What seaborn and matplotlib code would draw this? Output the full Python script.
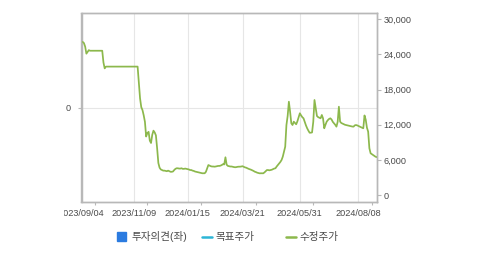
import numpy as np
import pandas as pd
import matplotlib
matplotlib.use("Agg")
import matplotlib.pyplot as plt
import matplotlib.ticker as mticker
from matplotlib.lines import Line2D
from matplotlib.patches import Rectangle
from matplotlib.transforms import Bbox, TransformedBbox
import seaborn as sns

# ---------------- data ----------------
holidays = ["2023-09-28", "2023-09-29", "2023-10-02", "2023-10-03", "2023-10-09",
            "2023-12-25", "2023-12-29", "2024-01-01", "2024-02-09", "2024-02-12",
            "2024-03-01", "2024-04-10", "2024-05-01", "2024-05-06", "2024-05-15",
            "2024-06-06", "2024-08-15"]
start_date = "2023-09-04"
end_date = "2024-08-30"

tick_dates = ["2023/09/04", "2023/11/09", "2024/01/15", "2024/03/21", "2024/05/31", "2024/08/08"]

price_a = [26100, 26100, 25900, 25300, 24100, 24400, 24700, 24600, 24600, 24600,
           24600, 24600, 24600, 24600, 24600, 24600, 24600, 24600]
price_b = [22600, 21600, 21900, 21900, 21900, 21900, 21900, 21900, 21900, 21900,
           21900, 21900, 21900, 21900, 21900, 21900, 21900, 21900, 21900, 21900,
           21900, 21900, 21900, 21900, 21900, 21900, 21900, 21900, 21900]
price_c = [19100, 16500, 15000, 14500, 13600, 12500, 10000, 10600, 10800, 9300,
           8900, 10300, 11000, 10700, 10200, 8000, 5500, 4700, 4400]
price_d = [4300, 4200, 4200, 4150, 4100, 4200, 4100, 4000, 4000, 4050,
           4300, 4500, 4600, 4600, 4550, 4550, 4600, 4500, 4500, 4550,
           4500, 4450, 4400]
price_e = [4300, 4300, 4200, 4150, 4050, 4000, 3950, 3900, 3850, 3800,
           3750, 3750, 3750, 4000, 4600]
price_f = [5150, 5050, 4950, 4900, 4900, 4870, 4900, 4950, 5000, 5000,
           5050, 5150, 5300, 5250]
price_g = [6470, 5200, 5000, 4950]
price_h = [4900, 4900, 4850, 4800, 4770, 4800, 4850, 4870, 4870, 4900,
           4950, 4850, 4750, 4700, 4600, 4500]
price_i = [4430, 4350, 4250, 4150, 4020, 3950, 3850, 3800, 3740, 3750,
           3750, 3740, 3900, 4100]
price_j = [4300, 4300, 4250, 4300, 4350, 4450, 4550, 4600, 4900, 5160,
           5400, 5670, 6000, 6570, 7400]
price_k = [8270, 11960, 13500, 15930, 14230, 12250, 11960, 12530, 12300, 12080,
           12600, 13300, 13960, 13600, 13300, 13100, 12500, 11900, 11400, 11000,
           10650, 10650, 10700, 12500, 16220, 14800, 13500, 13300, 13200, 13100,
           13670, 13100, 11400, 12000, 12530, 12800, 13000, 13100, 12900, 12500,
           12250, 12000, 11680, 12500, 15080, 12530, 12300, 12200, 12080, 12000,
           11950, 11900, 11850, 11800, 11750, 11700, 11680, 11900, 11960, 11900,
           11800, 11700, 11600, 11500, 11400, 13590, 12870, 11500, 10830, 8000,
           7150, 7000, 6860, 6700, 6570, 6500]

right_ticks = [0, 6000, 12000, 18000, 24000, 30000]

legend_labels = ["투자의견(좌)", "목표주가", "수정주가"]
legend_colors = ["#2b7be0", "#2cb5d6", "#8cb84c"]

# ---------------- build ----------------
prices = (price_a + price_b + price_c + price_d + price_e + price_f + price_g
          + price_h + price_i + price_j + price_k)
hol = set(pd.to_datetime(holidays))
dates = [d for d in pd.bdate_range(start_date, end_date) if d not in hol]
if len(dates) != len(prices):
    raise SystemExit(f"len mismatch {len(dates)} {len(prices)}")
pos = np.arange(len(dates))
date_index = {d.strftime("%Y/%m/%d"): i for i, d in enumerate(dates)}
major_pos = [date_index[t] for t in tick_dates]
minor_pos = [p + 11 for p in major_pos]

sns.set_theme(style="white")
plt.rcParams['font.family'] = ['Liberation Sans', 'Noto Sans CJK KR', 'DejaVu Sans']

W, H = 479, 254
fig = plt.figure(figsize=(W / 100, H / 100), dpi=100)
L, R, T, B = 81.5, 376.7, 13.3, 202.0
ax = fig.add_axes([L / W, 1 - B / H, (R - L) / W, (B - T) / H])
ax2 = ax.twinx()

spine_c = "#b8b8b8"
grid_c = "#e6e6e6"
txt_c = "#4a4a4a"

sns.lineplot(x=pos, y=prices, ax=ax2, color="#8cb84c", linewidth=1.25)

ax.set_xlim(0, len(dates) - 1)
ax.set_ylim(-1, 1)
ax.set_yticks([0])
ax.set_yticklabels(["0"])
ax.set_xticks(major_pos)
ax.set_xticklabels(tick_dates)
ax.set_xticks(minor_pos, minor=True)
ax.grid(True, which="major", color=grid_c, linewidth=0.8)
ax.set_axisbelow(True)

ax2.set_ylim(-1140, 30970)
ax2.set_yticks(right_ticks)
ax2.yaxis.set_major_formatter(mticker.FuncFormatter(lambda v, p: f"{int(v):,}"))
ax2.grid(False)
ax2.set_xlabel("")
ax2.set_ylabel("")

for a in (ax, ax2):
    for s in a.spines.values():
        s.set_color(spine_c)
        s.set_linewidth(1.0)

ax.tick_params(axis="x", which="major", direction="out", length=3, width=0.8,
               color=spine_c, labelsize=6.6, labelcolor=txt_c, pad=2)
ax.tick_params(axis="x", which="minor", direction="out", length=2, width=0.8,
               color=spine_c, bottom=True)
ax.tick_params(axis="y", direction="out", length=3, width=0.8, color=spine_c,
               labelsize=6.6, labelcolor=txt_c, pad=5)
ax2.tick_params(axis="y", direction="out", length=3, width=0.8, color=spine_c,
                labelsize=6.6, labelcolor=txt_c, pad=2)

# the first date label is cut at the container's left edge in the original
clip = TransformedBbox(Bbox([[64.0 / W, 0], [1, 1]]), fig.transFigure)
first_label = ax.get_xticklabels()[0]
first_label.set_clip_box(clip)
first_label.set_clip_on(True)

# legend (manual, below the axes)
ly = 1 - 236.7 / H
fig.add_artist(Rectangle((117.3 / W, 1 - 240.7 / H), 8.4 / W, 8.4 / H,
                         transform=fig.transFigure, color=legend_colors[0]))
fig.text(131.5 / W, ly, legend_labels[0], fontsize=7.6, color=txt_c, va="center", ha="left")
fig.add_artist(Line2D([201.7 / W, 211.7 / W], [ly, ly], transform=fig.transFigure,
                      color=legend_colors[1], linewidth=1.8))
fig.text(215.5 / W, ly, legend_labels[1], fontsize=7.6, color=txt_c, va="center", ha="left")
fig.add_artist(Line2D([286 / W, 296 / W], [ly, ly], transform=fig.transFigure,
                      color=legend_colors[2], linewidth=1.8))
fig.text(299.3 / W, ly, legend_labels[2], fontsize=7.6, color=txt_c, va="center", ha="left")

fig.savefig("out.png", dpi=100)
